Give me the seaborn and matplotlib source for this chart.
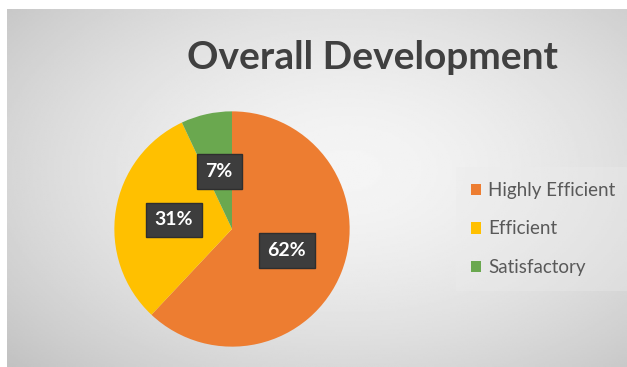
import numpy as np
import matplotlib.pyplot as plt
import seaborn as sns

# chart data
categories = ['Highly Efficient', 'Efficient', 'Satisfactory']
shares = [62, 31, 7]
slice_colors = ['#ED7D31', '#FFC000', '#6AA84F']
title = 'Overall Development'

sns.set_style('white')
plt.rcParams['font.family'] = ['Lato', 'DejaVu Sans']

fig = plt.figure(figsize=(6.27, 3.67), dpi=100)
fig.patch.set_facecolor('white')

# grey radial-gradient backdrop
bg = fig.add_axes([7 / 627, 0, 620 / 627, 358 / 367])
yy, xx = np.mgrid[0:1:200j, 0:1:320j]
dist = np.sqrt(((xx - 0.55) / 0.75) ** 2 + ((yy - 0.45) / 0.8) ** 2)
grad = 0.96 - 0.2 * dist ** 1.6
bg.imshow(grad, cmap='gray', vmin=0, vmax=1, aspect='auto', extent=[0, 1, 0, 1])
bg.set_axis_off()

# pie
ax = fig.add_axes([112 / 627, 18 / 367, 240 / 627, 240 / 367])
ax.set_facecolor('none')
wedges, _, autotexts = ax.pie(
    shares, colors=sns.color_palette(slice_colors), startangle=90, counterclock=False,
    autopct='%1.0f%%', pctdistance=0.5, radius=1,
    wedgeprops=dict(linewidth=0),
    textprops=dict(color='white', fontsize=14, fontweight='bold'))
for t in autotexts:
    t.set_bbox(dict(boxstyle='square,pad=0.45', facecolor='#3d3d3d', edgecolor='#2e2e2e', linewidth=1))
ax.set_xlim(-1.02, 1.02)
ax.set_ylim(-1.02, 1.02)
ax.set_aspect('equal')

fig.text(0.594, 0.843, title, ha='center', va='center', fontsize=28,
         fontweight='bold', color='#404040')

leg = fig.legend(wedges, categories, loc='center left', bbox_to_anchor=(456 / 627, 1 - 229 / 367),
                 frameon=True, facecolor='#ececec', edgecolor='none', fancybox=False,
                 fontsize=13.5, labelcolor='#595959', handlelength=0.55, handleheight=0.55,
                 handletextpad=0.35, labelspacing=1.15, borderpad=0.8, borderaxespad=0)
leg.get_frame().set_alpha(0.35)

fig.savefig('out.png', dpi=100)
